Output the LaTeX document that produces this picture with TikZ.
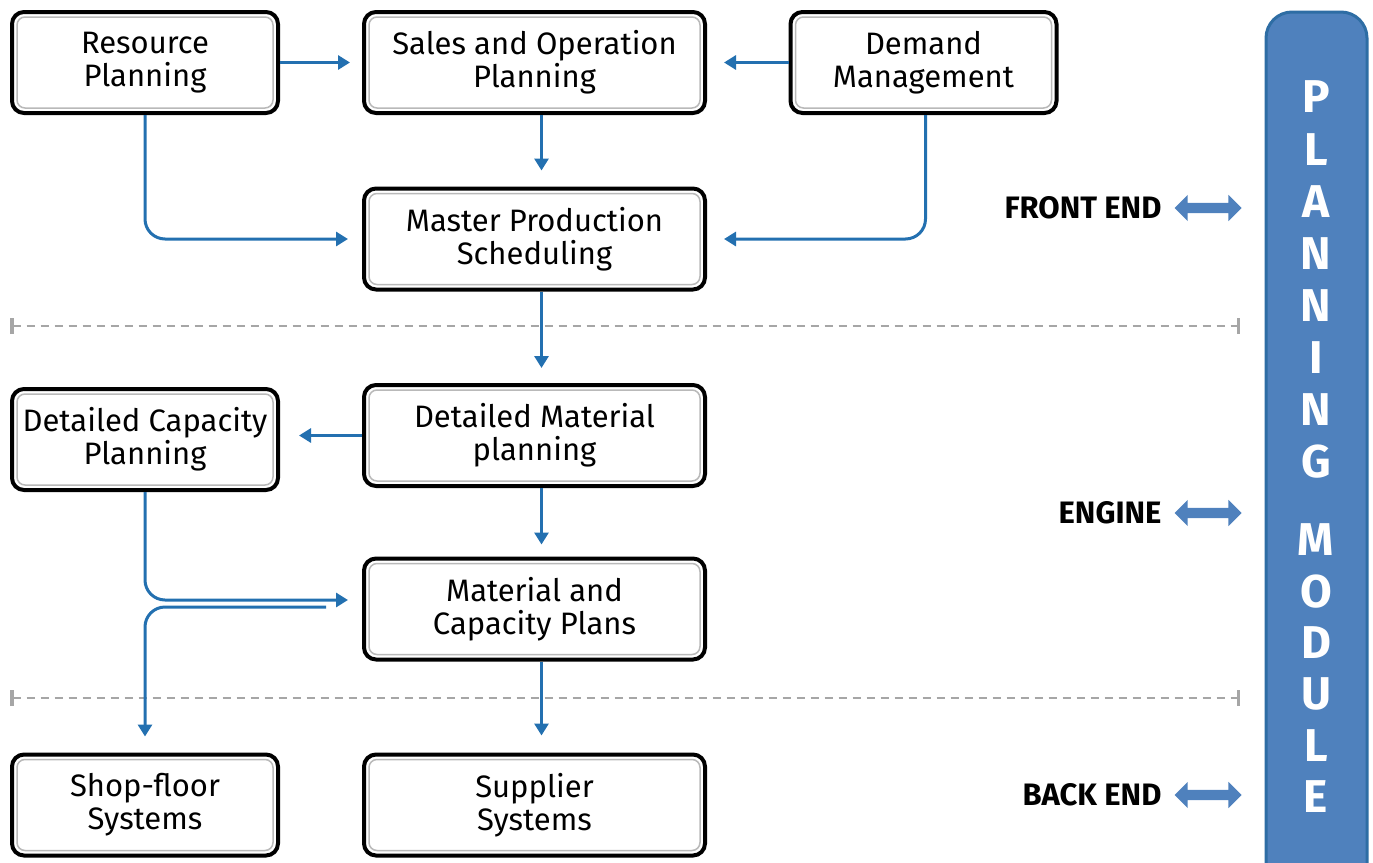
\documentclass[tikz,border=0pt]{standalone}
\usepackage{fontspec}
\setmainfont{Fira Sans}
\usetikzlibrary{shapes,arrows.meta,positioning,calc}

\definecolor{flowblue}{HTML}{2370B0}
\definecolor{modfill}{HTML}{4F81BD}
\definecolor{modedge}{HTML}{2E6DA4}
\definecolor{sepgray}{HTML}{A6A6A6}

\tikzset{
  planbox/.style={draw=black, line width=4pt, rounded corners=12pt, fill=white,
    align=center, minimum height=101pt, inner sep=0pt,
    font=\fontsize{31}{33}\selectfont,
    path picture={\draw[gray!55, line width=1.5pt, rounded corners=8pt]
      ([shift={(5pt,-5pt)}]path picture bounding box.north west) rectangle
      ([shift={(-5pt,5pt)}]path picture bounding box.south east);}},
  narrow/.style={planbox, minimum width=266pt},
  wide/.style={planbox, minimum width=341pt},
  flow/.style={draw=flowblue, line width=3pt, rounded corners=20pt,
    -{Triangle[width=14pt,length=12pt]}},
  sepline/.style={draw=sepgray, line width=2.5pt, dash pattern=on 8pt off 6pt,
    {Bar[width=16pt,line width=3.5pt]}-{Bar[width=16pt,line width=3.5pt]}},
  tier/.style={anchor=east, font=\fontsize{31}{31}\selectfont\bfseries},
  tierarrow/.style={double arrow, fill=modfill, inner xsep=0pt, inner ysep=5pt,
    minimum height=67pt, minimum width=26pt, double arrow head extend=8pt},
  modletter/.style={text=white, font=\fontsize{46}{46}\selectfont\bfseries},
}

\begin{document}
\begin{tikzpicture}[x=1pt, y=1pt]
    \useasboundingbox (0,0) rectangle (1373,-862);

    % planning module bar
    \draw[draw=modedge, fill=modfill, line width=3pt, rounded corners=26pt]
        (1266,-12) rectangle (1367,-895);
    \foreach \l [count=\i from 0] in {P,L,A,N,N,I,N,G} {
        \node[modletter] (pl\i) at (1316,{-97-52.1*\i}) {\l};
    }
    \foreach \l [count=\i from 0] in {M,O,D,U,L,E} {
        \node[modletter] (mo\i) at (1316,{-540-51.4*\i}) {\l};
    }

    % separators
    \draw[sepline] (10,-326) -- (1240,-326);
    \draw[sepline] (10,-698) -- (1240,-698);

    % boxes
    \node[narrow] (rp) at (145,-62.5) {Resource\\Planning};
    \node[wide] (sop) at (534.5,-62.5) {Sales and Operation\\Planning};
    \node[narrow] (dm) at (923.5,-62.5) {Demand\\Management};
    \node[wide] (mps) at (534.5,-239) {Master Production\\Scheduling};
    \node[narrow] (dcp) at (145,-439.5) {Detailed Capacity\\Planning};
    \node[wide] (dmp) at (534.5,-435.5) {Detailed Material\\planning};
    \node[wide] (mcp) at (534.5,-609) {Material and\\Capacity Plans};
    \node[narrow] (sfs) at (145,-805) {Shop-floor\\Systems};
    \node[wide] (sus) at (534.5,-805) {Supplier\\Systems};

    % connectors
    \draw[flow, shorten >=12pt] (rp) -- (sop);
    \draw[flow, shorten >=17pt] (dm) -- (sop);
    \draw[flow, shorten >=16pt] ([xshift=7pt]sop.south) -- ([xshift=7pt]mps.north);
    \draw[flow, shorten >=14pt] (rp.south) |- (mps.west);
    \draw[flow, shorten >=17pt] ([xshift=2pt]dm.south) |- (mps.east);
    \draw[flow, shorten >=15pt] ([xshift=7pt]mps.south) -- ([xshift=7pt]dmp.north);
    \draw[flow, shorten >=19pt] (dmp.west) -- (dmp.west -| dcp.east);
    \draw[flow, shorten >=12pt] ([xshift=7pt]dmp.south) -- ([xshift=7pt]mcp.north);
    \draw[flow, shorten >=14pt] (dcp.south) |- ([yshift=9pt]mcp.west);
    \coordinate (split) at ([xshift=-36pt,yshift=2pt]mcp.west);
    \draw[flow, shorten >=16pt] (split) -| (sfs.north);
    \draw[flow, shorten >=17pt] ([xshift=7pt]mcp.south) -- ([xshift=7pt]sus.north);

    % tiers
    \node[tier] (fe) at (1165,-208) {FRONT END};
    \node[tierarrow] (fea) at (1208,-208) {};
    \node[tier] (en) at (1165,-513) {ENGINE};
    \node[tierarrow] (ena) at (1208,-513) {};
    \node[tier] (be) at (1165,-795) {BACK END};
    \node[tierarrow] (bea) at (1208,-795) {};
\end{tikzpicture}
\end{document}
